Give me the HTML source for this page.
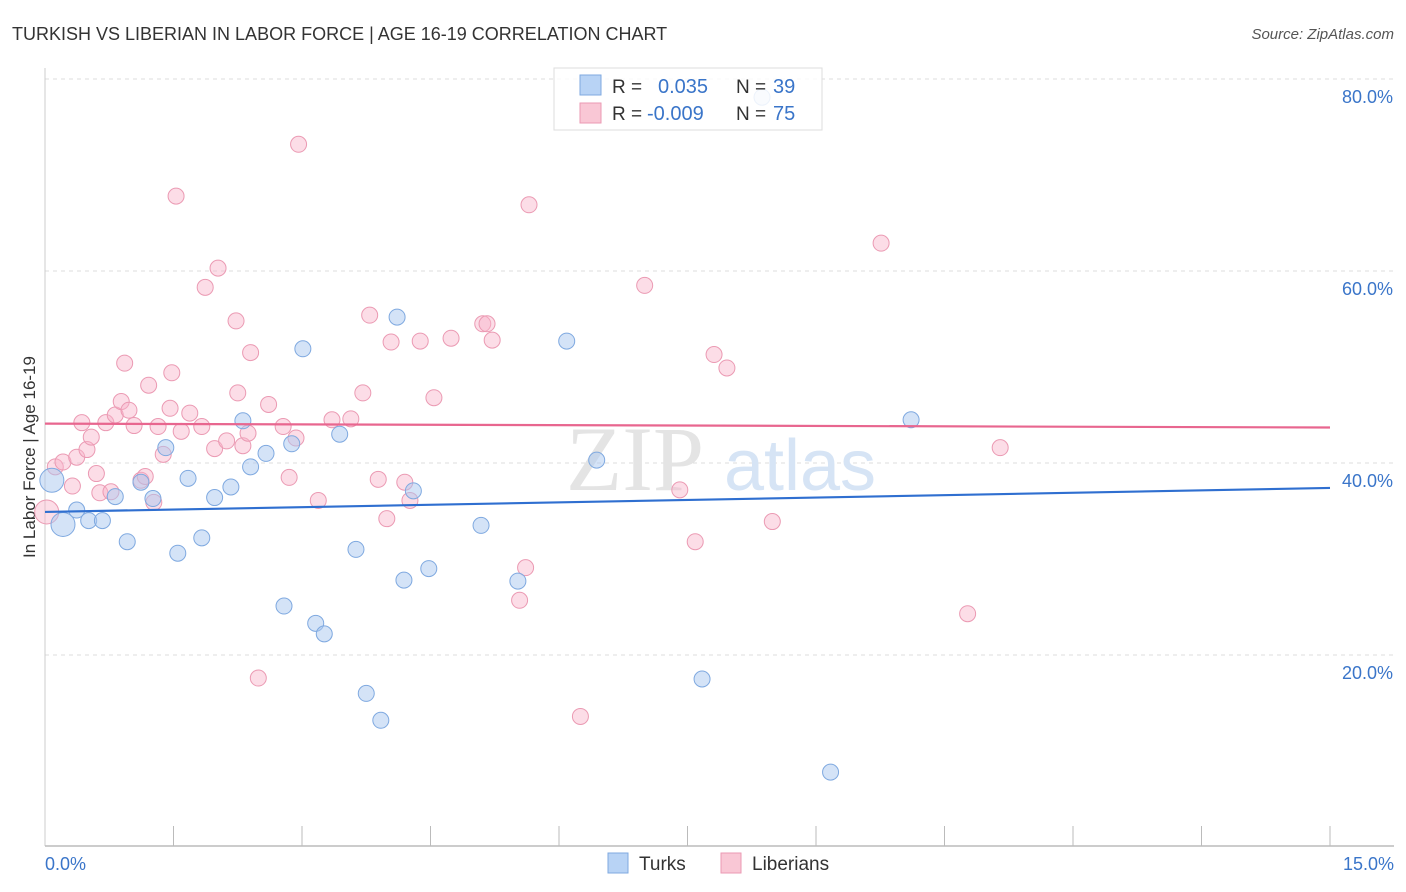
<!DOCTYPE html>
<html><head><meta charset="utf-8"><style>
body{margin:0;background:#fff;font-family:"Liberation Sans",sans-serif}
svg{display:block}
</style></head><body>
<svg id="c" width="1406" height="892">
<text x="12" y="40" font-size="18" fill="#333">TURKISH VS LIBERIAN IN LABOR FORCE | AGE 16-19 CORRELATION CHART</text>
<text x="1394" y="39" font-size="15" fill="#555" font-style="italic" text-anchor="end">Source: ZipAtlas.com</text>
<text x="35" y="457" font-size="17" fill="#333" text-anchor="middle" transform="rotate(-90 35 457)">In Labor Force | Age 16-19</text>
<g id="grid"></g>
<g><text x="635" y="490" font-size="92" fill="#e4e4e4" font-family="Liberation Serif,serif" text-anchor="middle">ZIP</text><text x="800" y="490" font-size="72" fill="#d6e4f5" text-anchor="middle">atlas</text></g>
<g id="axes"></g>
<g id="pts"></g>
<g id="trend"></g>
<g>
<rect x="554" y="68" width="268" height="62" fill="rgba(255,255,255,0.85)" stroke="#ddd"/>
<rect x="580" y="75" width="21" height="20" fill="#b8d3f5" stroke="#7fa9e0"/>
<rect x="580" y="103" width="21" height="20" fill="#f9c7d5" stroke="#eb9ab3"/>
<text x="612" y="93" font-size="19" fill="#333">R =</text><text x="658" y="93" font-size="20" fill="#3a75c9">0.035</text>
<text x="736" y="93" font-size="19" fill="#333">N =</text><text x="773" y="93" font-size="20" fill="#3a75c9">39</text>
<text x="612" y="120" font-size="19" fill="#333">R =</text><text x="647" y="120" font-size="20" fill="#3a75c9">-0.009</text>
<text x="736" y="120" font-size="19" fill="#333">N =</text><text x="773" y="120" font-size="20" fill="#3a75c9">75</text>
</g>
<g>
<rect x="608" y="853" width="20" height="20" fill="#b8d3f5" stroke="#7fa9e0"/>
<text x="639" y="870" font-size="19" fill="#333">Turks</text>
<rect x="721" y="853" width="20" height="20" fill="#f9c7d5" stroke="#eb9ab3"/>
<text x="752" y="870" font-size="19" fill="#333">Liberians</text>
</g>
</svg>
<script>
const turksX=[0.08,0.21,0.37,0.51,0.67,0.82,0.96,1.12,1.26,1.41,1.55,1.67,1.83,1.98,2.17,2.31,2.40,2.58,2.79,2.88,3.01,3.16,3.26,3.44,3.63,3.75,3.92,4.11,4.19,4.30,4.48,5.09,5.52,6.09,6.44,7.67,9.17,10.11,8.37];
const turksY=[38.2,33.6,35.1,34.0,34.0,36.5,31.8,38.0,36.3,41.6,30.6,38.4,32.2,36.4,37.5,44.4,39.6,41.0,25.1,42.0,51.9,23.3,22.2,43.0,31.0,16.0,13.2,55.2,27.8,37.1,29.0,33.5,27.7,52.7,40.3,17.5,7.8,44.5,78.1];
const libX=[0.02,0.12,0.21,0.32,0.37,0.43,0.49,0.54,0.60,0.64,0.71,0.77,0.82,0.89,0.93,0.98,1.04,1.12,1.17,1.21,1.27,1.32,1.38,1.46,1.48,1.53,1.59,1.69,1.83,1.87,1.98,2.02,2.12,2.23,2.25,2.31,2.37,2.40,2.49,2.61,2.78,2.85,2.93,2.96,3.19,3.35,3.57,3.71,3.79,3.89,3.99,4.04,4.20,4.26,4.38,4.54,4.74,5.11,5.16,5.22,5.54,5.61,5.65,6.25,7.00,7.41,7.59,7.81,7.96,8.49,9.76,10.77,11.15];
const libY=[34.9,39.6,40.1,37.6,40.6,44.2,41.4,42.7,38.9,36.9,44.2,37.0,45.0,46.4,50.4,45.5,43.9,38.2,38.6,48.1,35.9,43.8,40.9,45.7,49.4,67.8,43.3,45.2,43.8,58.3,41.5,60.3,42.3,54.8,47.3,41.8,43.1,51.5,17.6,46.1,43.8,38.5,42.6,73.2,36.1,44.5,44.6,47.3,55.4,38.3,34.2,52.6,38.0,36.1,52.7,46.8,53.0,54.5,54.5,52.8,25.7,29.1,66.9,13.6,58.5,37.2,31.8,51.3,49.9,33.9,62.9,24.3,41.6];
const turksBig=[0,1];const libBig=[0];
const trendTurks=[34.9,37.4];const trendLib=[44.1,43.7];
const yTicks=[20,40,60,80];const xTicks=[0,1.5,3,4.5,6,7.5,9,10.5,12,13.5,15];
const NS='http://www.w3.org/2000/svg';
const X=v=>45+v/15*1285, Y=v=>847-v*9.6;
function mk(t,a,p){const e=document.createElementNS(NS,t);for(const k in a)e.setAttribute(k,a[k]);p.appendChild(e);return e;}
const grid=document.getElementById('grid'),axes=document.getElementById('axes'),pts=document.getElementById('pts'),tr=document.getElementById('trend');
yTicks.forEach(t=>{const l=mk('line',{x1:45,x2:1394,y1:Y(t),y2:Y(t),stroke:'#ddd','stroke-dasharray':'4 4'},grid);


const tx=mk('text',{x:1393,y:Y(t)+24,'font-size':18,fill:'#3a75c9','text-anchor':'end'},axes);tx.textContent=t.toFixed(1)+'%';

});
mk('line',{x1:45,x2:45,y1:68,y2:846,stroke:'#ccc'},axes);
mk('line',{x1:45,x2:1394,y1:846,y2:846,stroke:'#bbb','stroke-width':1.5},axes);
xTicks.forEach((t,i)=>{if(i>0){const l=mk('line',{x1:X(t),x2:X(t),y1:826,y2:846,stroke:'#bbb'},axes);

}});
const x0=mk('text',{x:45,y:870,'font-size':18,fill:'#3a75c9'},axes);x0.textContent='0.0%';


const x1=mk('text',{x:1394,y:870,'font-size':18,fill:'#3a75c9','text-anchor':'end'},axes);x1.textContent='15.0%';


libX.forEach((v,i)=>{const c=mk('circle',{cx:X(v),cy:Y(libY[i]),r:libBig.includes(i)?12:8,fill:'rgba(248,180,202,0.45)',stroke:'#eb9ab3','stroke-width':1},pts);

});
turksX.forEach((v,i)=>{const c=mk('circle',{cx:X(v),cy:Y(turksY[i]),r:turksBig.includes(i)?12:8,fill:'rgba(170,200,240,0.5)',stroke:'#7fa9e0','stroke-width':1},pts);

});
const lt=mk('line',{x1:X(0),x2:X(15),y1:Y(trendTurks[0]),y2:Y(trendTurks[1]),stroke:'#2f6fd0','stroke-width':2.2},tr);


const ll=mk('line',{x1:X(0),x2:X(15),y1:Y(trendLib[0]),y2:Y(trendLib[1]),stroke:'#e8668f','stroke-width':2.2},tr);


</script>
</body></html>
